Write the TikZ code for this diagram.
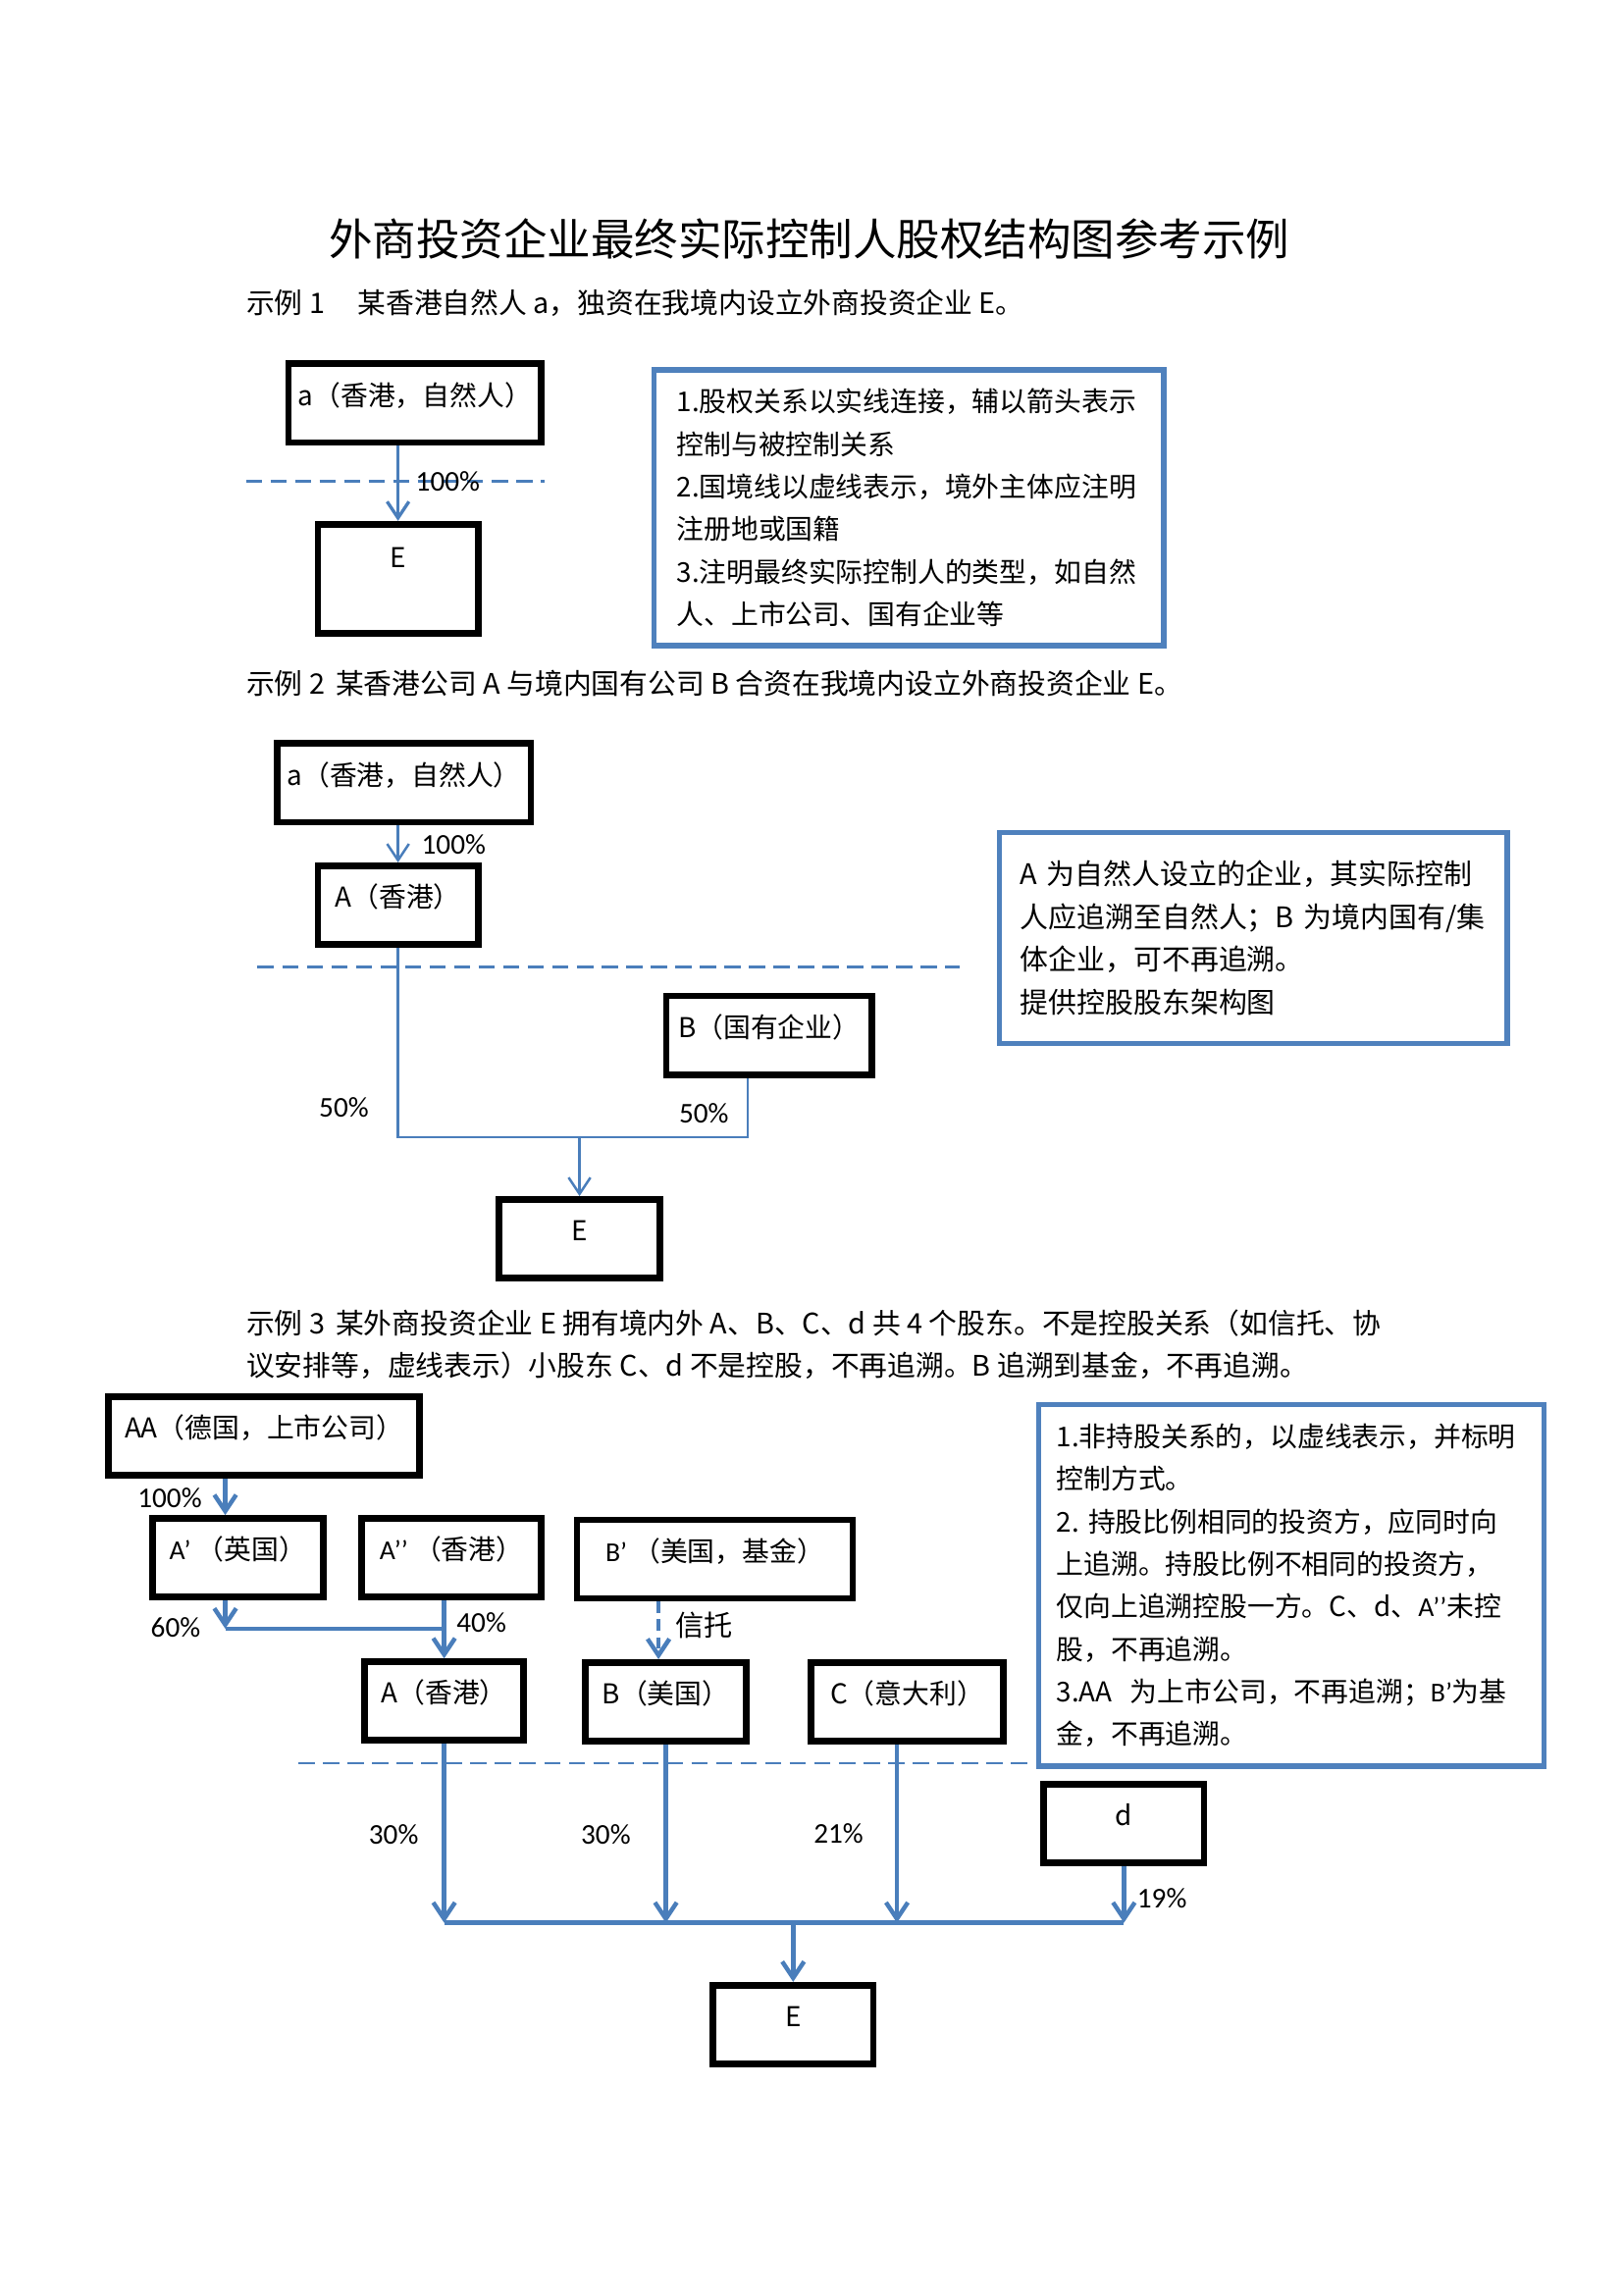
\documentclass[tikz,border=0pt]{standalone}
\usepackage{fontspec}
\setmainfont{Noto Sans CJK SC}
\newfontfamily\latfont{Carlito}
\usetikzlibrary{arrows.meta,positioning}
\definecolor{lineblue}{HTML}{4A7EBB}
\definecolor{boxblue}{HTML}{4F81BD}
\begin{document}
\begin{tikzpicture}[x=0.5363pt,y=-0.5363pt,
  ent/.style={draw,line width=2.4pt,minimum height=28.8pt,text height=8pt,text depth=6.4pt,font=\fontsize{10}{12}\selectfont},
  note/.style={draw=boxblue,line width=2pt,align=left,font=\fontsize{10}{15.6}\selectfont},
  desc/.style={anchor=west,inner sep=0pt,font=\fontsize{10.35}{12}\selectfont},
  pct/.style={inner sep=0pt,font=\latfont\fontsize{10.5}{12}\selectfont},
  border/.style={lineblue,line width=1pt,dash pattern=on 6pt off 3pt},
  arr/.style={lineblue,line width=1.2pt,-{Straight Barb[length=6pt,width=8pt]}},
  arr2/.style={lineblue,line width=0.9pt,-{Straight Barb[length=6pt,width=8pt]}},
  ln2/.style={lineblue,line width=0.9pt},
  arr3/.style={lineblue,line width=1.6pt,-{Straight Barb[length=6pt,width=8pt]}},
  ln3/.style={lineblue,line width=1.6pt}]
\useasboundingbox (0,0) rectangle (1109.1,1568.4);
\node (title) at (553,163) {\fontsize{16}{18}\selectfont 外商投资企业最终实际控制人股权结构图参考示例};
% example 1
\node[desc] (d1) at (168,207) {示例 1\hspace{12pt}某香港自然人 a，独资在我境内设立外商投资企业 E。};
\node[ent,minimum width=92.6pt] (a1) at (283.5,275.5) {a（香港，自然人）};
\node[ent,minimum width=58.8pt,minimum height=40pt,text depth=16.4pt] (e1) at (272,395.5) {E};
\draw[border] (168,329) -- (372,329);
\draw[arr] (a1.south -| e1.north) -- (e1.north);
\node[pct] (p1) at (306,329) {100\%};
\node[note,minimum width=186.8pt,minimum height=101pt,inner xsep=8.4pt,text width=170pt] (n1) at (621,347) {1.股权关系以实线连接，辅以箭头表示\\
控制与被控制关系\\
2.国境线以虚线表示，境外主体应注明\\
注册地或国籍\\
3.注明最终实际控制人的类型，如自然\\
人、上市公司、国有企业等};
% example 2
\node[desc] (d2) at (168,467) {示例 2\hspace{4pt}某香港公司 A 与境内国有公司 B 合资在我境内设立外商投资企业 E。};
\node[ent,minimum width=93.1pt] (a2) at (276,535) {a（香港，自然人）};
\node[ent,minimum width=58.8pt] (A2) at (272,618.5) {A（香港）};
\node[ent,minimum width=75.4pt] (B2) at (525.5,707.5) {B（国有企业）};
\node[ent,minimum width=58.8pt] (E2) at (396,846.5) {E};
\node[note,minimum width=186.2pt,minimum height=77.4pt,inner xsep=7.6pt,text width=171pt,font=\fontsize{10.4}{15.6}\selectfont] (n2) at (856.5,641) {A~为自然人设立的企业，其实际控制\\
人应追溯至自然人；B~为境内国有/集\\
体企业，可不再追溯。\\
提供控股股东架构图};
\draw[border] (176,661) -- (656,661);
\draw[arr2] (a2.south -| A2.north) -- (A2.north);
\node[pct] (p2) at (310,577) {100\%};
\coordinate (bar2) at (0,777);
\coordinate (bfoot) at ([xshift=-7.8pt]B2.south);
\draw[ln2] (A2.south) |- (bfoot |- bar2) -- (bfoot);
\draw[arr2] (E2.north |- bar2) -- (E2.north);
\node[pct] (p3) at (235,757) {50\%};
\node[pct] (p4) at (481,761) {50\%};
% example 3
\node[desc] (d3) at (168,904) {示例 3\hspace{4pt}某外商投资企业 E 拥有境内外 A、B、C、d 共 4 个股东。不是控股关系（如信托、协};
\node[desc] (d3b) at (168,933) {议安排等，虚线表示）小股东 C、d 不是控股，不再追溯。B 追溯到基金，不再追溯。};
\node[ent,minimum width=114pt] (AA) at (180.5,981.5) {AA（德国，上市公司）};
\node[ent,minimum width=62.5pt] (Ap) at (162.5,1064.5) {{\latfont A’}\ （英国）};
\node[ent,minimum width=65.7pt] (App) at (308.5,1064.5) {{\latfont A’’}\ （香港）};
\node[ent,minimum width=101.1pt] (Bp) at (488.5,1065.5) {{\latfont B’}\ （美国，基金）};
\node[ent,minimum width=58.2pt] (A3) at (303.5,1162.5) {A（香港）};
\node[ent,minimum width=58.8pt] (B3) at (455,1163) {B（美国）};
\node[ent,minimum width=70.6pt] (C3) at (620,1163) {C（意大利）};
\node[ent,minimum width=58.8pt] (d3box) at (768,1246) {d};
\node[ent,minimum width=58.8pt] (E3) at (542,1383.5) {E};
\node[note,minimum width=185.2pt,minimum height=132.6pt,inner xsep=6.5pt,text width=172.2pt] (n3) at (882.5,1083.5) {1.非持股关系的，以虚线表示，并标明\\
控制方式。\\
2.~持股比例相同的投资方，应同时向\\
上追溯。持股比例不相同的投资方，\\
仅向上追溯控股一方。C、d、{\latfont A’’}未控\\
股，不再追溯。\\
3.AA~~为上市公司，不再追溯；{\latfont B’}为基\\
金，不再追溯。};
\coordinate (apin) at ([xshift=-4.6pt]Ap.north);
\coordinate (apout) at ([xshift=-4.6pt]Ap.south);
\coordinate (bar1) at (0,1113);
\draw[arr3] (apin |- AA.south) -- (apin);
\node[pct] (p5) at (116,1024) {100\%};
\draw[arr3] (apout) -- (apout |- bar1);
\draw[ln3] (apout |- bar1) -- (A3.north |- bar1);
\draw[arr3] (App.south -| A3.north) -- (A3.north);
\node[pct] (p6) at (120,1112) {60\%};
\node[pct] (p7) at (329,1109) {40\%};
\coordinate (b3in) at ([xshift=-2.7pt]B3.north);
\draw[arr3,dash pattern=on 4pt off 2.5pt] (Bp.south -| b3in) -- (b3in);
\node[inner sep=0pt,font=\fontsize{10.5}{12}\selectfont] (p8) at (481,1111) {信托};
\draw[border] (204,1205) -- (706,1205);
\coordinate (bar3) at (0,1314);
\coordinate (cout) at ([xshift=-3.8pt]C3.south);
\draw[arr3] (A3.south) -- (A3.south |- bar3);
\draw[arr3] (B3.south) -- (B3.south |- bar3);
\draw[arr3] (cout) -- (cout |- bar3);
\draw[arr3] (d3box.south) -- (d3box.south |- bar3);
\draw[ln3] (A3.south |- bar3) -- (d3box.south |- bar3);
\draw[arr3] (E3.north |- bar3) -- (E3.north);
\node[pct] (p9) at (269,1254) {30\%};
\node[pct] (p10) at (414,1254) {30\%};
\node[pct] (p11) at (573,1253) {21\%};
\node[pct] (p12) at (794,1297) {19\%};
\end{tikzpicture}
\end{document}
